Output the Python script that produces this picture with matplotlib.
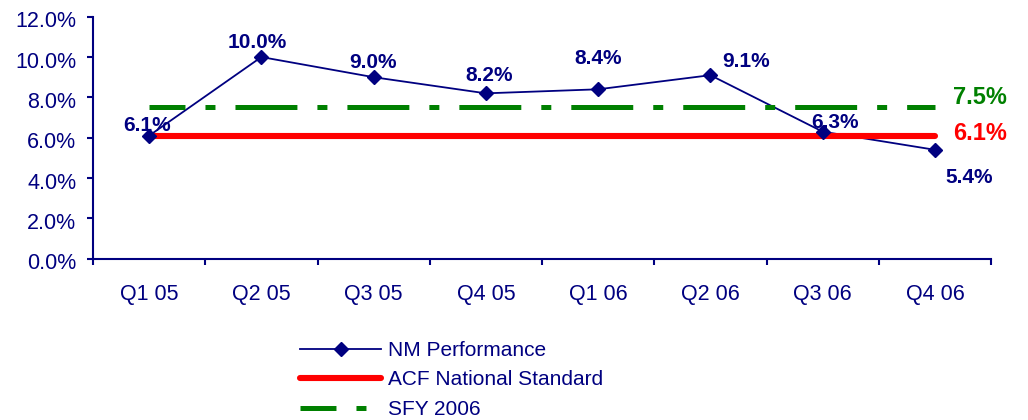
import matplotlib.pyplot as plt
import matplotlib.transforms as mtransforms
from matplotlib.lines import Line2D
from matplotlib.ticker import FuncFormatter, FixedLocator

# Data
quarters = ['Q1 05', 'Q2 05', 'Q3 05', 'Q4 05', 'Q1 06', 'Q2 06', 'Q3 06', 'Q4 06']
nm_performance = [6.1, 10.0, 9.0, 8.2, 8.4, 9.1, 6.3, 5.4]
acf_standard = 6.1
sfy_2006 = 7.5

# Label offsets (points) for the NM data labels
label_offsets = [(-1.5, 7.5), (-3, 10.5), (-0.5, 10.8), (2, 13), (-0.3, 22.3), (26, 9.7), (9, 6.8), (25, -20)]

navy = '#000080'
green = '#008000'
red = '#ff0000'

plt.rcParams['font.family'] = ['Liberation Sans', 'DejaVu Sans']
plt.rcParams['lines.scale_dashes'] = False

fig = plt.figure(figsize=(10.28, 4.2), dpi=100)
ax = fig.add_axes([93 / 1028, 1 - 258.7 / 420, 898 / 1028, 242 / 420])

x = list(range(len(quarters)))

# NM line, then reference lines, then markers on top
ax.plot(x, nm_performance, color=navy, linewidth=1.3, zorder=2)
sfy_style = (18.7, (44.6, 14.4, 7.2, 14.4))
ax.plot(x, [sfy_2006] * len(x), color=green, linewidth=3.6, linestyle=sfy_style,
        dash_capstyle='butt', zorder=3)
ax.plot(x, [acf_standard] * len(x), color=red, linewidth=4.4,
        solid_capstyle='round', zorder=3)
ax.plot(x, nm_performance, linestyle='none', marker='D', markersize=6.8,
        color=navy, zorder=4)

for xi, val, (dx, dy) in zip(x, nm_performance, label_offsets):
    ax.annotate(f'{val:.1f}%', (xi, val), xytext=(dx, dy), textcoords='offset points',
                ha='center', va='center', fontsize=15, fontweight='bold', color=navy, zorder=5)

ax.annotate(f'{sfy_2006:.1f}%', (x[-1], sfy_2006), xytext=(13, 7.5), textcoords='offset points',
            ha='left', va='center', fontsize=17, fontweight='bold', color=green)
ax.annotate(f'{acf_standard:.1f}%', (x[-1], acf_standard), xytext=(13, 1.8), textcoords='offset points',
            ha='left', va='center', fontsize=17, fontweight='bold', color=red)

ax.set_xlim(-0.5, len(quarters) - 0.5)
ax.set_ylim(0, 12)
ax.set_yticks([0, 2, 4, 6, 8, 10, 12])
ax.yaxis.set_major_formatter(FuncFormatter(lambda v, p: f'{v:.1f}%'))
ax.set_xticks(x)
ax.set_xticklabels(quarters)
ax.xaxis.set_minor_locator(FixedLocator([i - 0.5 for i in range(len(quarters) + 1)]))

ax.tick_params(axis='x', which='major', length=0, pad=18, labelsize=15.5, labelcolor=navy)
ax.tick_params(axis='x', which='minor', length=4, width=1.5, color=navy, direction='out')
ax.tick_params(axis='y', length=4, width=1.5, color=navy, pad=8, labelsize=15.5, labelcolor=navy)

# y labels sit a touch below their ticks in the original
shift = mtransforms.ScaledTranslation(0, -2 / 72, fig.dpi_scale_trans)
for lbl in ax.get_yticklabels():
    lbl.set_transform(lbl.get_transform() + shift)

for side in ['top', 'right']:
    ax.spines[side].set_visible(False)
for side in ['left', 'bottom']:
    ax.spines[side].set_color(navy)
    ax.spines[side].set_linewidth(1.5)

handles = [
    Line2D([], [], color=navy, linewidth=1.3, marker='D', markersize=6.8),
    Line2D([], [], color=red, linewidth=4.4, solid_capstyle='round'),
    Line2D([], [], color=green, linewidth=3.6, linestyle=sfy_style, dash_capstyle='butt'),
]
labels = ['NM Performance', 'ACF National Standard', 'SFY 2006']
leg = fig.legend(handles, labels, loc='upper left', bbox_to_anchor=(300 / 1028, 1 - 341 / 420),
                 frameon=False, fontsize=15, handlelength=3.9, handletextpad=0.3,
                 labelspacing=0.5, borderpad=0, borderaxespad=0, numpoints=1)
for t in leg.get_texts():
    t.set_color(navy)

fig.savefig('out.png', dpi=100)
plt.close(fig)
